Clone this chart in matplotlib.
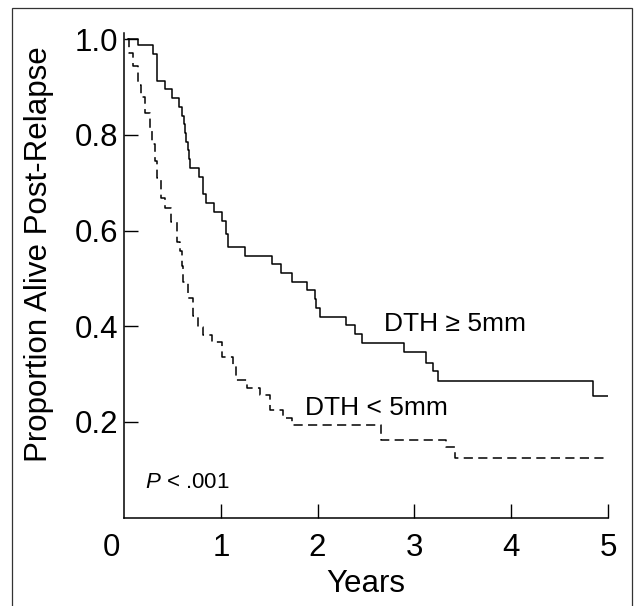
import matplotlib
matplotlib.use("Agg")
import matplotlib.pyplot as plt
import matplotlib.transforms as mtransforms
from matplotlib.patches import Rectangle

plt.rcParams['font.family'] = ['Liberation Sans', 'DejaVu Sans']
plt.rcParams['mathtext.fontset'] = 'custom'
plt.rcParams['mathtext.rm'] = 'Liberation Sans'
plt.rcParams['mathtext.it'] = 'Liberation Sans:italic'

# Kaplan-Meier steps (time in years, proportion alive)
t_high = [0.045, 0.148, 0.30, 0.344, 0.42, 0.495, 0.57, 0.60, 0.615, 0.63, 0.645,
          0.66, 0.672, 0.682, 0.778, 0.82, 0.845, 0.925, 1.016, 1.054, 1.07,
          1.253, 1.526, 1.625, 1.74, 1.89, 1.975, 1.985, 2.025, 2.29, 2.386,
          2.455, 2.896, 3.12, 3.195, 3.247, 4.85, 5.0]
s_high = [1.0, 0.987, 0.968, 0.913, 0.895, 0.877, 0.858, 0.840, 0.822, 0.804, 0.786,
          0.768, 0.749, 0.731, 0.711, 0.676, 0.657, 0.639, 0.620, 0.593, 0.565,
          0.547, 0.530, 0.511, 0.493, 0.476, 0.457, 0.438, 0.420, 0.403, 0.384,
          0.365, 0.347, 0.324, 0.306, 0.285, 0.2535, 0.2535]

t_low = [0.045, 0.05, 0.096, 0.148, 0.172, 0.217, 0.27, 0.29, 0.32, 0.337, 0.38,
         0.42, 0.49, 0.545, 0.578, 0.595, 0.613, 0.665, 0.716, 0.768, 0.82,
         0.905, 1.01, 1.13, 1.16, 1.27, 1.40, 1.51, 1.64, 1.74, 2.655, 3.33,
         3.42, 5.0]
s_low = [1.0, 0.971, 0.943, 0.905, 0.88, 0.846, 0.808, 0.78, 0.745, 0.71, 0.669,
         0.648, 0.617, 0.575, 0.558, 0.525, 0.492, 0.460, 0.422, 0.399, 0.382,
         0.367, 0.335, 0.318, 0.288, 0.272, 0.256, 0.224, 0.208, 0.193, 0.162, 0.148,
         0.125, 0.125]

x_ticks = [0, 1, 2, 3, 4, 5]
y_ticks = [0.2, 0.4, 0.6, 0.8, 1.0]
y_tick_labels = ['0.2', '0.4', '0.6', '0.8', '1.0']

fig = plt.figure(figsize=(6.36, 6.06), dpi=100)
ax = fig.add_axes([0.195, 0.1457, 0.761, 0.7993])

ax.step(t_high, s_high, where='post', color='black', lw=1.1)
ax.step(t_low, s_low, where='post', color='black', lw=1.1, linestyle=(0, (6, 3.5)))

ax.set_xlim(0, 5)
ax.set_ylim(0, 1.012)
for side in ['top', 'right']:
    ax.spines[side].set_visible(False)
for side in ['left', 'bottom']:
    ax.spines[side].set_linewidth(1.1)

ax.set_xticks(x_ticks)
ax.set_xticklabels([str(v) for v in x_ticks])
ax.set_yticks(y_ticks)
ax.set_yticklabels(y_tick_labels)
ax.tick_params(axis='both', direction='in', length=10, width=1.0, labelsize=22.5)
ax.tick_params(axis='x', pad=11)
ax.tick_params(axis='y', pad=4)
ax.xaxis.get_major_ticks()[0].tick1line.set_visible(False)
# the "0" label sits a bit left of the axis corner
shift = mtransforms.ScaledTranslation(-13 / 100, 0, fig.dpi_scale_trans)
lab0 = ax.get_xticklabels()[0]
lab0.set_transform(lab0.get_transform() + shift)

ax.set_xlabel('Years', fontsize=22.5, labelpad=4)
ax.set_ylabel('Proportion Alive Post-Relapse', fontsize=22.5)
ax.yaxis.set_label_coords(-0.145, 0.544)

ax.text(2.686, 0.391, 'DTH \u2265 5mm', fontsize=19, va='baseline')
ax.text(1.87, 0.2145, 'DTH < 5mm', fontsize=19, va='baseline')
ax.text(0.214, 0.0614, r'$P$ < .001', fontsize=16, va='baseline')

# thin frame around the whole figure
fig.patches.append(Rectangle((12 / 636, -0.05), 620 / 636, (606 - 8) / 606 + 0.05,
                             transform=fig.transFigure, fill=False, lw=0.9,
                             edgecolor='#333333', clip_on=False))

fig.savefig('out.png', dpi=100)
